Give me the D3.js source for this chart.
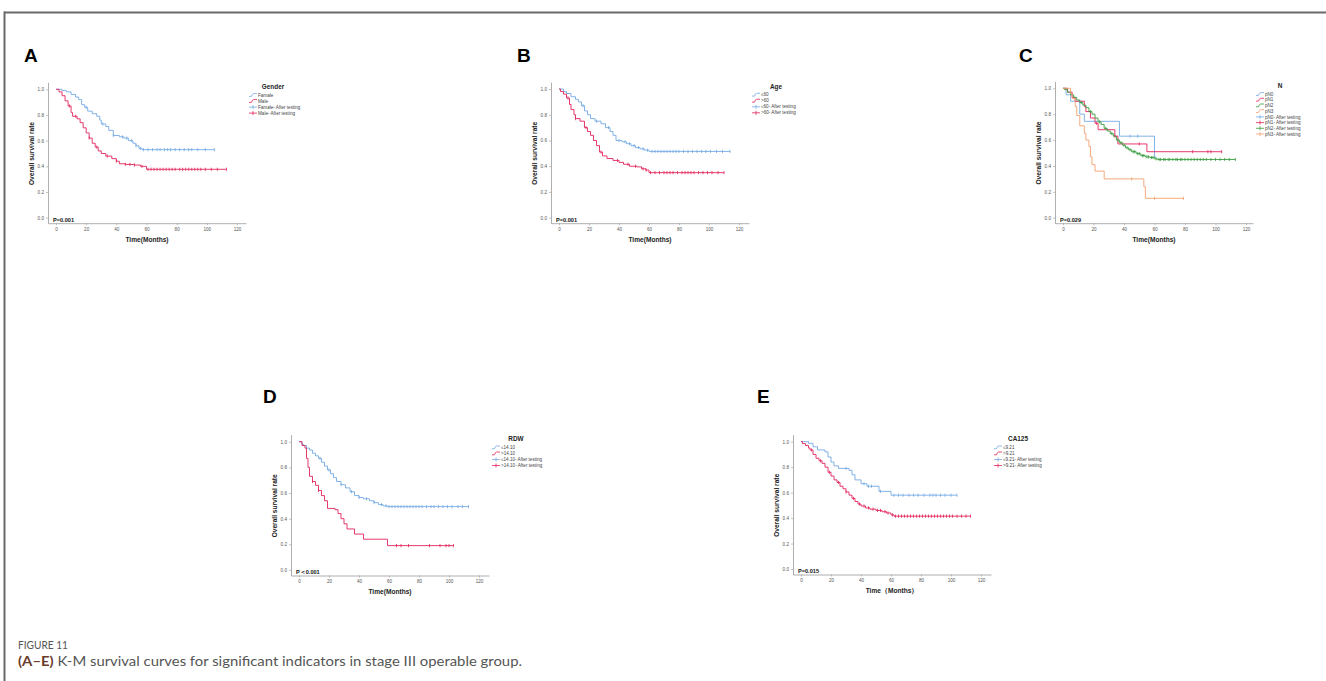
<!DOCTYPE html>
<html><head><meta charset="utf-8">
<script src="https://cdn.jsdelivr.net/npm/d3@7"></script>
<style>
html,body{margin:0;padding:0;background:#fff;}
svg{display:block;}
</style></head>
<body>
<svg id="chart" width="1326" height="681"></svg>
<script>
// ---------------- DATA ----------------
const xTicks = [0, 20, 40, 60, 80, 100, 120];
const yTicks = [0.0, 0.2, 0.4, 0.6, 0.8, 1.0];

// Panel A : Gender
const genderLabels = ["Famale", "Male", "Famale- After testing", "Male- After testing"];
const femaleSteps = [[0,1],[4,0.99],[7,0.98],[10,0.96],[13,0.94],[15,0.92],[17,0.88],[19,0.86],[21,0.83],[24,0.81],[27,0.79],[29,0.76],[30,0.73],[33,0.71],[35,0.68],[38,0.64],[42,0.63],[45,0.62],[48,0.60],[51,0.58],[53,0.56],[55,0.54],[57,0.53]];
const femaleEnd = 105;
const femaleCensor = [20,31,38,44,47,50,53,56,58,61,64,67,69,72,74,76,79,82,85,88,90,94,99,105];
const maleSteps = [[0,1],[2,0.98],[4,0.95],[6,0.91],[8,0.87],[10,0.82],[11,0.79],[14,0.77],[16,0.74],[18,0.70],[20,0.66],[22,0.62],[24,0.58],[26,0.55],[28,0.52],[30,0.50],[33,0.48],[37,0.46],[40,0.44],[42,0.42],[46,0.415],[52,0.41],[56,0.40],[60,0.377]];
const maleEnd = 113;
const maleCensor = [9,13,22,27,34,40,46,49,52,57,61,63,65,67,69,71,73,75,77,79,82,84,86,88,90,92,94,96,99,103,107,113];

// Panel B : Age
const ageLabels = ["≤60", ">60", "≤60- After testing", ">60- After testing"];
const youngSteps = [[0,1],[3,0.98],[5,0.965],[8,0.94],[11,0.92],[13,0.90],[15,0.87],[17,0.83],[19,0.80],[21,0.77],[24,0.75],[28,0.73],[31,0.70],[34,0.67],[36,0.64],[38,0.60],[42,0.59],[45,0.575],[48,0.56],[51,0.545],[54,0.535],[57,0.525],[60,0.515]];
const youngEnd = 114;
const youngCensor = [16,25,33,40,44,47,50,53,56,59,62,64,66,68,70,72,74,76,78,80,83,86,89,92,95,98,101,105,109,114];
const oldSteps = [[0,1],[1,0.98],[3,0.96],[5,0.93],[7,0.88],[8,0.84],[10,0.80],[11,0.77],[14,0.75],[17,0.70],[19,0.67],[21,0.64],[23,0.60],[25,0.56],[27,0.51],[29,0.48],[32,0.46],[36,0.445],[40,0.43],[43,0.415],[47,0.40],[52,0.395],[55,0.38],[58,0.37],[60,0.35]];
const oldEnd = 110;
const oldCensor = [6,11,18,28,39,46,51,56,58,61,64,67,70,72,74,76,79,82,84,86,88,90,93,96,99,102,106,110];

// Panel C : N
const nLabels = ["pN0","pN1","pN2","pN3","pN0- After testing","pN1- After testing","pN2- After testing","pN3- After testing"];
const pN0Steps = [[0,1],[2,0.95],[5,0.90],[11,0.80],[14,0.745],[37,0.63],[60,0.47]];
const pN0End = 61;
const pN0Censor = [44,49];
const pN1Steps = [[0,1],[3,0.97],[6,0.93],[8,0.90],[14,0.86],[15,0.82],[18,0.77],[21,0.73],[23,0.68],[34,0.63],[36,0.57],[55,0.51]];
const pN1End = 104;
const pN1Censor = [22,34,50,85,95,97,104];
const pN2Steps = [[0,1],[1,0.99],[3,0.97],[5,0.95],[7,0.93],[9,0.91],[11,0.89],[13,0.87],[15,0.85],[17,0.82],[19,0.80],[21,0.77],[23,0.74],[25,0.72],[27,0.69],[29,0.67],[31,0.65],[33,0.63],[35,0.60],[37,0.58],[39,0.56],[41,0.54],[43,0.525],[45,0.51],[48,0.495],[51,0.48],[54,0.47],[57,0.465],[60,0.455],[62,0.45]];
const pN2End = 113;
const pN2Censor = [12,18,24,28,32,36,38,40,42,44,46,47,49,50,52,53,55,56,58,59,61,63,64,66,67,69,70,72,74,75,77,78,80,82,84,86,88,90,92,94,97,100,103,106,109,113];
const pN3Steps = [[0,1],[5,0.96],[6,0.92],[8,0.86],[9,0.79],[11,0.71],[14,0.65],[15,0.60],[17,0.55],[18,0.47],[19,0.41],[21,0.36],[27,0.30],[53,0.24],[54,0.15]];
const pN3End = 79;
const pN3Censor = [45,60,79];

// Panel D : RDW
const rdwLabels = ["≤14.10", ">14.10", "≤14.10- After testing", ">14.10- After testing"];
const rdwLowSteps = [[0,1],[2,0.98],[3,0.97],[5,0.95],[7,0.935],[9,0.91],[11,0.89],[13,0.87],[15,0.84],[17,0.81],[19,0.78],[21,0.75],[23,0.72],[25,0.69],[28,0.665],[31,0.64],[34,0.61],[37,0.58],[40,0.565],[43,0.555],[47,0.54],[50,0.525],[53,0.51],[56,0.50],[59,0.494]];
const rdwLowEnd = 113;
const rdwLowCensor = [14,20,28,35,40,45,50,55,58,60,62,64,66,68,70,72,74,76,78,80,82,85,88,90,93,96,99,102,106,109,113];
const rdwHighSteps = [[0,1],[2,0.97],[4,0.95],[5,0.87],[6,0.80],[7,0.73],[9,0.69],[11,0.66],[13,0.62],[15,0.58],[17,0.54],[19,0.48],[24,0.47],[26,0.44],[28,0.40],[30,0.36],[32,0.32],[37,0.28],[43,0.24],[59,0.19]];
const rdwHighEnd = 103;
const rdwHighCensor = [9,13,65,68,73,87,94,98,100,103];

// Panel E : CA125
const caLabels = ["≤9.21", ">9.21", "≤9.21- After testing", ">9.21- After testing"];
const caLowSteps = [[0,1],[5,0.987],[8,0.96],[11,0.935],[16,0.92],[18,0.88],[20,0.84],[22,0.81],[25,0.79],[32,0.775],[34,0.74],[36,0.70],[40,0.67],[44,0.65],[52,0.61],[60,0.58]];
const caLowEnd = 104;
const caLowCensor = [30,42,45,47,53,62,65,68,72,75,78,82,86,88,90,93,96,100,104];
const caHighSteps = [[0,1],[1,0.985],[3,0.97],[5,0.95],[6,0.935],[8,0.90],[10,0.87],[12,0.85],[14,0.83],[16,0.80],[18,0.76],[20,0.73],[22,0.70],[24,0.68],[26,0.65],[28,0.63],[30,0.605],[32,0.58],[34,0.555],[36,0.53],[38,0.51],[40,0.495],[43,0.48],[46,0.47],[50,0.46],[54,0.45],[57,0.44],[60,0.425],[62,0.415]];
const caHighEnd = 113;
const caHighCensor = [7,13,19,25,30,35,39,42,45,48,51,53,56,58,61,63,65,67,69,71,73,75,77,79,81,83,85,87,89,91,93,95,97,99,101,104,107,110,113];

const pValues = ["P=0.001", "P=0.001", "P=0.029", "P\uFF1C0.001", "P=0.015"];
const legendTitles = ["Gender", "Age", "N", "RDW", "CA125"];
const xTitles = ["Time(Months)", "Time(Months)", "Time(Months)", "Time(Months)", "Time\uFF08Months\uFF09"];
const yTitle = "Overall survival rate";
const panelLetters = ["A", "B", "C", "D", "E"];

// ---------------- STYLE / LAYOUT ----------------
const BLUE = "#74aae4", RED = "#e2255c", GREEN = "#3a9c3f", ORANGE = "#f3a06e";
const FONT = "'Liberation Sans', Arial, sans-serif";

const panels = [
  { x0:56,   x120:237,  y1:89.3,  y0:217.7, letter:[24,62],   labels:genderLabels, legendGap:6,
    curves:[{s:femaleSteps,e:femaleEnd,c:femaleCensor,col:BLUE},{s:maleSteps,e:maleEnd,c:maleCensor,col:RED}] },
  { x0:559,  x120:739,  y1:89.0,  y0:217.7, letter:[517,62],  labels:ageLabels, legendGap:6,
    curves:[{s:youngSteps,e:youngEnd,c:youngCensor,col:BLUE},{s:oldSteps,e:oldEnd,c:oldCensor,col:RED}] },
  { x0:1063, x120:1246, y1:88.3,  y0:217.7, letter:[1019,62], labels:nLabels, legendGap:5.7,
    curves:[{s:pN0Steps,e:pN0End,c:pN0Censor,col:BLUE},{s:pN1Steps,e:pN1End,c:pN1Censor,col:RED},
            {s:pN2Steps,e:pN2End,c:pN2Censor,col:GREEN},{s:pN3Steps,e:pN3End,c:pN3Censor,col:ORANGE}] },
  { x0:299,  x120:479,  y1:441.7, y0:570.0, letter:[263,403], labels:rdwLabels, legendGap:6,
    curves:[{s:rdwLowSteps,e:rdwLowEnd,c:rdwLowCensor,col:BLUE},{s:rdwHighSteps,e:rdwHighEnd,c:rdwHighCensor,col:RED}] },
  { x0:801,  x120:981,  y1:441.7, y0:569.0, letter:[757,403], labels:caLabels, legendGap:6,
    curves:[{s:caLowSteps,e:caLowEnd,c:caLowCensor,col:BLUE},{s:caHighSteps,e:caHighEnd,c:caHighCensor,col:RED}] }
];

const svg = d3.select("#chart");
svg.append("rect").attr("width",1326).attr("height",681).attr("fill","#fff");

// frame
svg.append("line").attr("x1",4).attr("x2",1326).attr("y1",12.5).attr("y2",12.5).attr("stroke","#6a6a6a").attr("stroke-width",2);
svg.append("line").attr("x1",4.5).attr("x2",4.5).attr("y1",11.5).attr("y2",681).attr("stroke","#6a6a6a").attr("stroke-width",2);

function survAt(steps, t){
  let s = 1;
  for (const st of steps){ if (st[0] <= t) s = st[1]; else break; }
  return s;
}

panels.forEach((p, i) => {
  const g = svg.append("g");
  const ppm = (p.x120 - p.x0) / 120;
  const ppu = (p.y0 - p.y1);
  const axLeft = p.x0 - 8, axRight = p.x0 + 190;
  const axBottom = p.y0 + 5.5, axTop = p.y1 - 7;
  const x = d3.scaleLinear().domain([(axLeft - p.x0)/ppm, (axRight - p.x0)/ppm]).range([axLeft, axRight]);
  const y = d3.scaleLinear().domain([(p.y0 - axBottom)/ppu, (p.y0 - axTop)/ppu]).range([axBottom, axTop]);

  // panel letter
  g.append("text").attr("x",p.letter[0]).attr("y",p.letter[1]).text(panelLetters[i])
    .attr("font-family",FONT).attr("font-weight","bold").attr("font-size",19).attr("fill","#000");

  // x axis
  const xa = g.append("g").attr("transform",`translate(0,${axBottom})`)
    .call(d3.axisBottom(x).tickValues(xTicks).tickSize(2).tickSizeOuter(0).tickFormat(d3.format("d")));
  xa.select(".domain").attr("stroke","#9a9a9a").attr("stroke-width",0.8);
  xa.selectAll(".tick line").attr("stroke","#9a9a9a").attr("stroke-width",0.6);
  xa.selectAll(".tick text").attr("font-family",FONT).attr("font-size",4.6).attr("fill","#555").attr("y",4.5).attr("dy","0.71em");

  // y axis
  const ya = g.append("g").attr("transform",`translate(${axLeft},0)`)
    .call(d3.axisLeft(y).tickValues(yTicks).tickSize(2).tickSizeOuter(0).tickFormat(d3.format(".1f")));
  ya.select(".domain").attr("stroke","#9a9a9a").attr("stroke-width",0.8);
  ya.selectAll(".tick line").attr("stroke","#9a9a9a").attr("stroke-width",0.6);
  ya.selectAll(".tick text").attr("font-family",FONT).attr("font-size",4.6).attr("fill","#555").attr("x",-4);

  // titles
  g.append("text").attr("x",p.x0+91).attr("y",p.y0+24.3).attr("text-anchor","middle")
    .attr("font-family",FONT).attr("font-weight","bold").attr("font-size",6.6).attr("fill","#222").text(xTitles[i]);
  g.append("text").attr("transform",`translate(${p.x0-22.5},${(p.y0+p.y1)/2}) rotate(-90)`).attr("text-anchor","middle")
    .attr("font-family",FONT).attr("font-weight","bold").attr("font-size",6.6).attr("fill","#222").text(yTitle);

  // P value
  g.append("text").attr("x",p.x0-3).attr("y",p.y0+4.4)
    .attr("font-family",FONT).attr("font-weight","bold").attr("font-size",5.6).attr("fill","#111").text(pValues[i]);

  // curves
  const line = d3.line().x(d=>x(d[0])).y(d=>y(d[1])).curve(d3.curveStepAfter);
  p.curves.forEach(cv => {
    const pts = cv.s.concat([[cv.e, cv.s[cv.s.length-1][1]]]);
    g.append("path").attr("d",line(pts)).attr("fill","none").attr("stroke",cv.col).attr("stroke-width",0.9);
    g.selectAll(null).data(cv.c).enter().append("line")
      .attr("x1",d=>x(d)).attr("x2",d=>x(d))
      .attr("y1",d=>y(survAt(cv.s,d))-1.6).attr("y2",d=>y(survAt(cv.s,d))+1.6)
      .attr("stroke",cv.col).attr("stroke-width",0.8);
  });

  // legend
  const lx = p.x0 + 193, ly0 = p.y1 + 5.8;
  g.append("text").attr("x",p.x0+217).attr("y",p.y1-0.3).attr("text-anchor","middle")
    .attr("font-family",FONT).attr("font-weight","bold").attr("font-size",6.4).attr("fill","#222").text(legendTitles[i]);
  const nC = p.curves.length;
  p.labels.forEach((lab, k) => {
    const col = p.curves[k % nC].col;
    const yy = ly0 + k * p.legendGap;
    if (k < nC) {
      g.append("path").attr("d",`M${lx},${yy+1.3} L${lx+2.5},${yy+1.3} Q${lx+3.3},${yy-1.5} ${lx+4.5},${yy-1.5} L${lx+8},${yy-1.5}`)
        .attr("fill","none").attr("stroke",col).attr("stroke-width",0.8);
    } else {
      g.append("line").attr("x1",lx).attr("x2",lx+8).attr("y1",yy).attr("y2",yy).attr("stroke",col).attr("stroke-width",0.8);
      g.append("line").attr("x1",lx+4).attr("x2",lx+4).attr("y1",yy-2).attr("y2",yy+2).attr("stroke",col).attr("stroke-width",0.8);
    }
    g.append("text").attr("x",lx+9).attr("y",yy).attr("dy","0.35em")
      .attr("font-family",FONT).attr("font-size",4.6).attr("fill","#444").text(lab);
  });
});

// caption
svg.append("text").attr("x",18).attr("y",649).attr("font-family","Lato, 'Open Sans', sans-serif")
  .attr("font-size",11).attr("fill","#555").attr("textLength",50).attr("lengthAdjust","spacingAndGlyphs").text("FIGURE 11");
const cap = svg.append("text").attr("x",18).attr("y",665.5).attr("font-family","Lato, 'Open Sans', sans-serif")
  .attr("font-size",14).attr("fill","#555").attr("textLength",504).attr("lengthAdjust","spacingAndGlyphs");
cap.append("tspan").attr("font-weight","bold").attr("fill","#6b3b2b").text("(A\u2013E)");
cap.append("tspan").text(" K-M survival curves for significant indicators in stage III operable group.");
</script>
</body></html>
